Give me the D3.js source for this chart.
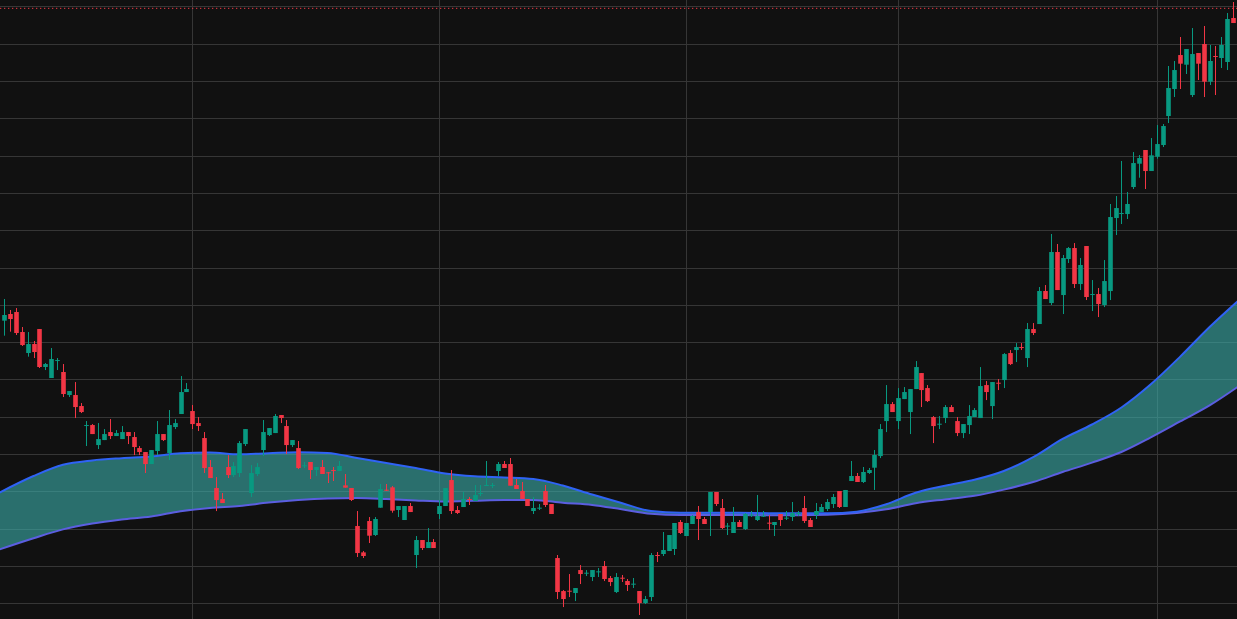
<!DOCTYPE html>
<html lang="en">
<head>
    <meta charset="UTF-8">
    <title>Candles with band</title>
    <script src="https://d3js.org/d3.v7.min.js"></script>
    <style>
        html, body { margin: 0; padding: 0; background: #111111; overflow: hidden; }
        svg { display: block; }
        .grid line { stroke: #363636; stroke-width: 1; shape-rendering: crispEdges; }
    </style>
</head>
<body>
<svg id="chart" width="1237" height="619"></svg>

<script>
    // OHLC per bar, bar index 0 .. 210
    const open = [175.75,177.54,178.07,172.71,167.08,169.49,173.51,163.33,160.38,164.93,
        161.99,155.82,155.82,152.87,147.51,147.78,142.41,143.75,145.90,144.83,
        144.02,145.90,144.56,141.61,140.54,137.32,140.81,145.36,140.27,147.24,
        150.73,156.62,151.53,148.31,144.29,136.52,130.89,127.94,136.52,134.37,
        134.91,142.68,129.55,134.64,141.07,145.09,145.63,150.46,147.51,142.41,
        141.61,136.71,137.87,135.72,136.53,135.10,135.72,135.46,131.61,130.90,
        120.71,113.65,122.05,118.30,125.62,130.45,131.08,125.00,122.32,126.07,
        112.94,116.96,114.81,116.42,123.93,126.07,133.04,125.00,125.80,127.95,
        127.41,129.38,131.52,131.52,135.46,137.33,137.33,131.70,130.09,127.95,
        124.73,125.45,130.09,126.61,112.13,103.28,103.37,102.75,108.91,108.02,
        107.04,108.38,109.99,106.77,103.02,106.86,105.97,105.08,103.29,100.07,
        101.68,112.94,113.21,114.01,114.55,121.79,118.03,121.25,124.47,122.59,
        124.47,129.83,125.54,120.63,118.84,121.79,119.91,123.58,122.32,123.31,
        121.61,120.98,123.93,122.77,123.13,124.02,125.54,122.32,123.66,124.47,
        125.27,126.61,130.10,125.81,132.78,134.12,132.51,134.92,136.34,139.46,
        148.84,153.40,148.84,154.74,151.26,157.42,161.71,157.69,149.91,147.95,
        149.65,152.60,148.84,145.63,147.77,149.91,149.65,158.49,152.86,159.12,
        159.83,167.07,167.88,168.68,165.73,173.51,174.85,183.70,180.48,194.15,
        182.62,192.27,195.22,185.57,195.76,182.71,182.89,179.94,183.69,203.26,
        204.42,204.33,211.57,217.82,221.49,215.86,219.70,222.83,230.60,237.84,
        246.95,244.36,236.23,247.49,249.90,239.81,246.69,246.15,245.08,256.87,
        257.14];
    const high = [181.56,178.61,179.14,174.05,172.71,170.30,173.51,164.40,168.42,165.74,
        164.13,156.89,159.30,153.67,148.85,148.04,148.31,146.70,149.38,146.43,
        147.51,145.90,145.90,142.15,140.54,141.07,148.85,145.36,151.80,149.38,
        160.91,159.04,153.14,149.92,145.90,138.39,133.84,129.55,139.73,137.86,
        143.49,146.70,137.05,137.59,149.12,146.97,150.73,150.46,149.12,143.75,
        143.49,137.87,137.87,136.53,138.40,135.19,136.53,138.14,134.65,130.90,
        124.73,114.01,123.12,123.12,131.97,131.97,131.43,126.07,126.07,126.88,
        118.03,116.96,120.17,117.22,127.68,130.90,135.72,126.07,129.83,128.48,
        131.70,131.70,138.14,132.24,137.87,138.14,138.94,133.31,132.51,127.95,
        128.48,126.61,131.70,126.61,112.94,103.55,107.84,104.09,110.25,108.91,
        108.91,109.45,111.33,107.31,108.11,107.58,106.51,106.78,103.29,101.95,
        113.48,113.75,119.11,118.30,121.52,122.32,121.52,123.66,126.08,123.13,
        129.83,129.83,127.95,121.52,125.81,122.32,124.20,124.74,129.03,124.74,
        123.66,121.79,123.93,124.74,127.15,124.74,128.76,122.86,126.88,126.61,
        127.95,129.29,130.10,130.37,138.14,134.92,136.53,136.27,141.09,148.04,
        158.49,153.94,157.69,157.96,157.42,164.93,161.71,158.49,150.18,150.18,
        153.13,153.13,149.91,148.04,153.13,152.33,163.32,159.57,159.30,160.10,
        167.07,167.88,169.75,169.75,175.12,175.12,184.77,185.30,198.98,196.30,
        193.35,195.49,196.56,192.54,195.76,186.64,184.50,192.00,207.02,209.16,
        218.55,210.23,220.95,220.15,221.49,224.70,228.19,228.46,244.01,245.35,
        251.78,248.56,254.19,247.49,254.73,249.64,249.37,251.78,258.21,261.16,
        259.90];
    const low = [171.73,172.80,171.91,168.96,166.10,165.74,163.06,162.52,160.38,162.52,
        155.28,155.28,149.65,150.99,142.15,145.36,141.34,143.75,144.02,144.83,
        144.02,142.68,139.73,139.73,134.91,137.32,139.73,143.49,138.39,146.70,
        150.73,156.62,146.70,146.17,134.91,133.57,124.72,126.87,133.57,133.84,
        133.84,142.15,128.47,134.10,139.46,144.83,145.63,148.31,140.00,141.88,
        135.98,136.26,133.31,134.11,134.65,132.24,132.77,135.46,130.99,127.41,
        112.40,112.13,116.15,118.03,125.62,130.09,124.28,123.12,122.32,124.46,
        109.45,114.28,114.81,114.81,122.59,126.07,123.93,123.93,125.80,126.34,
        127.41,128.75,131.52,130.90,134.11,136.26,131.52,130.63,127.95,126.07,
        123.93,125.00,125.80,123.93,101.14,98.99,101.67,100.60,105.16,107.31,
        105.96,107.04,105.96,104.62,102.75,105.70,103.29,104.09,96.86,99.80,
        100.61,111.06,112.67,114.01,112.94,118.57,118.03,121.25,116.96,121.25,
        118.03,126.08,119.91,118.30,118.84,120.45,119.64,123.13,122.06,123.13,
        119.64,118.03,120.72,122.32,122.06,123.40,121.52,120.45,122.59,124.47,
        124.74,125.54,125.54,125.81,132.78,132.51,132.24,134.66,130.37,138.92,
        145.89,151.26,146.70,154.74,145.36,157.42,152.60,153.94,142.94,146.70,
        148.31,151.26,144.82,144.28,145.36,149.91,149.65,154.47,149.38,157.15,
        157.69,163.86,164.66,167.88,163.32,171.90,174.85,181.55,179.94,183.96,
        177.53,191.20,184.50,183.96,181.28,178.33,176.72,179.40,181.28,198.70,
        201.65,202.99,211.03,214.07,211.03,215.86,219.16,222.29,228.72,235.69,
        237.84,241.86,235.69,240.25,235.69,238.91,236.23,243.47,242.93,255.53,
        256.90];
    const close = [177.27,176.19,172.44,169.22,169.49,167.35,163.33,164.13,165.47,165.20,
        156.09,156.89,152.60,151.26,147.78,145.36,144.02,145.36,144.83,145.63,
        145.90,144.83,141.88,140.54,137.32,141.07,145.36,143.75,147.78,148.31,
        156.62,157.43,148.04,147.51,136.25,133.57,127.67,126.87,134.37,136.78,
        142.95,146.70,134.91,136.52,145.90,146.97,150.19,149.65,142.41,143.75,
        136.25,136.98,135.72,136.53,134.65,134.92,135.54,136.80,130.99,127.68,
        113.47,112.67,118.12,122.59,130.63,130.27,124.82,126.07,126.07,124.46,
        116.96,114.81,116.42,114.81,126.07,130.90,124.73,124.20,127.95,127.77,
        129.02,129.56,131.70,131.70,137.33,136.26,131.52,130.63,127.95,126.07,
        125.54,125.63,126.34,123.93,103.02,101.14,103.19,104.09,107.84,108.20,
        108.91,108.56,106.50,105.70,107.04,106.69,104.90,105.26,100.07,101.14,
        112.94,112.76,114.28,118.30,121.52,118.84,121.52,123.40,122.59,121.25,
        129.83,126.61,120.18,120.81,121.79,120.45,123.93,123.75,123.40,123.49,
        121.43,121.79,122.32,122.95,124.20,124.20,122.06,120.45,124.74,125.81,
        127.15,128.49,125.81,130.37,134.12,132.51,135.19,135.73,139.75,146.70,
        153.40,151.26,155.01,156.62,157.42,163.32,157.15,154.20,147.50,148.13,
        152.60,151.26,145.63,148.04,150.18,151.79,158.23,156.62,159.30,158.94,
        166.80,164.12,168.68,168.50,173.51,172.44,183.70,181.55,194.15,183.96,
        192.54,195.22,185.57,190.67,182.09,182.89,180.21,186.37,203.53,205.94,
        204.60,207.02,218.00,219.34,215.86,220.06,223.09,227.92,238.11,242.93,
        244.63,248.56,247.22,244.63,239.81,245.35,246.51,249.64,256.61,255.53,
        259.47];

    // band (upper / lower envelope), sampled every 5 bars
    const bandIdx = [-1,5,10,15,20,25,30,35,40,45,50,55,60,65,70,75,80,85,90,95,100,
        105,110,115,120,125,130,135,140,145,150,155,160,165,170,175,180,185,190,195,200,205,210];
    const bandUpper = [129.51,134.12,137.12,138.30,138.89,139.32,140.20,140.42,139.94,140.23,140.50,
        140.28,138.94,137.60,136.26,134.79,134.04,133.74,133.32,131.57,129.16,
        126.88,124.74,124.28,124.28,124.26,124.15,124.12,124.12,124.55,126.56,
        129.62,131.52,133.10,135.46,139.16,144.04,147.92,152.48,158.70,166.12,174.06,181.29];
    const bandLower = [114.34,117.45,119.81,121.36,122.43,123.26,124.66,125.57,126.08,126.99,127.66,
        128.09,128.22,127.95,127.55,127.26,127.47,127.69,127.69,126.94,126.35,
        125.19,124.01,123.67,123.67,123.64,123.61,123.59,123.72,124.20,125.19,
        126.80,127.85,128.81,130.47,132.51,135.19,137.71,140.55,144.47,148.73,153.04,158.24];

    // grid: price levels and bars where the time lines fall
    const priceLevels = [100,110,120,130,140,150,160,170,180,190,200,210,220,230,240,250,260];
    const timeLineIdx = [32,74,116,152,196];

    const W = 1237, H = 619;
    const svg = d3.select("#chart");

    const x = d3.scaleLinear().domain([-0.704, 209.66]).range([0, W]);
    const y = d3.scaleLinear().domain([95.79, 261.70]).range([H, 0]);

    // grid
    const grid = svg.append("g").attr("class", "grid");
    grid.selectAll(".h").data(priceLevels).join("line")
        .attr("x1", 0).attr("x2", W)
        .attr("y1", d => Math.round(y(d)) + 0.5)
        .attr("y2", d => Math.round(y(d)) + 0.5);
    grid.selectAll(".v").data(timeLineIdx).join("line")
        .attr("y1", 0).attr("y2", H)
        .attr("x1", d => Math.round(x(d)) + 0.5)
        .attr("x2", d => Math.round(x(d)) + 0.5);

    // band
    const band = bandIdx.map((d, k) => ({ i: d, up: bandUpper[k], lo: bandLower[k] }));

    svg.append("path")
        .datum(band)
        .attr("fill", "rgb(60,175,172)")
        .attr("fill-opacity", 0.6)
        .attr("d", d3.area()
            .curve(d3.curveMonotoneX)
            .x(d => x(d.i))
            .y0(d => y(d.lo))
            .y1(d => y(d.up)));

    svg.append("path")
        .datum(band)
        .attr("fill", "none")
        .attr("stroke", "#5b5ee0")
        .attr("stroke-width", 2)
        .attr("d", d3.line().curve(d3.curveMonotoneX).x(d => x(d.i)).y(d => y(d.lo)));

    svg.append("path")
        .datum(band)
        .attr("fill", "none")
        .attr("stroke", "#2f63f5")
        .attr("stroke-width", 2)
        .attr("d", d3.line().curve(d3.curveMonotoneX).x(d => x(d.i)).y(d => y(d.up)));

    // candles
    const bars = open.map((o, i) => ({ i, o, h: high[i], l: low[i], c: close[i] }));
    const green = "#089981", red = "#f23645";
    const bodyW = 4.6;

    const g = svg.append("g");
    const candle = g.selectAll("g").data(bars).join("g");

    candle.append("line")
        .attr("x1", d => Math.round(x(d.i)) + 0.5)
        .attr("x2", d => Math.round(x(d.i)) + 0.5)
        .attr("y1", d => y(d.h))
        .attr("y2", d => y(d.l))
        .attr("stroke", d => d.c >= d.o ? green : red)
        .attr("stroke-width", 1);

    candle.append("rect")
        .attr("x", d => Math.round(x(d.i)) + 0.5 - bodyW / 2)
        .attr("width", bodyW)
        .attr("y", d => y(Math.max(d.o, d.c)))
        .attr("height", d => Math.max(1, Math.abs(y(d.o) - y(d.c))))
        .attr("fill", d => d.c >= d.o ? green : red);

    // last price line
    const last = close[close.length - 1];
    svg.append("line")
        .attr("x1", 0).attr("x2", W)
        .attr("y1", y(last)).attr("y2", y(last))
        .attr("stroke", red)
        .attr("stroke-width", 1)
        .attr("stroke-dasharray", "1.3 2.7");
</script>
</body>
</html>
